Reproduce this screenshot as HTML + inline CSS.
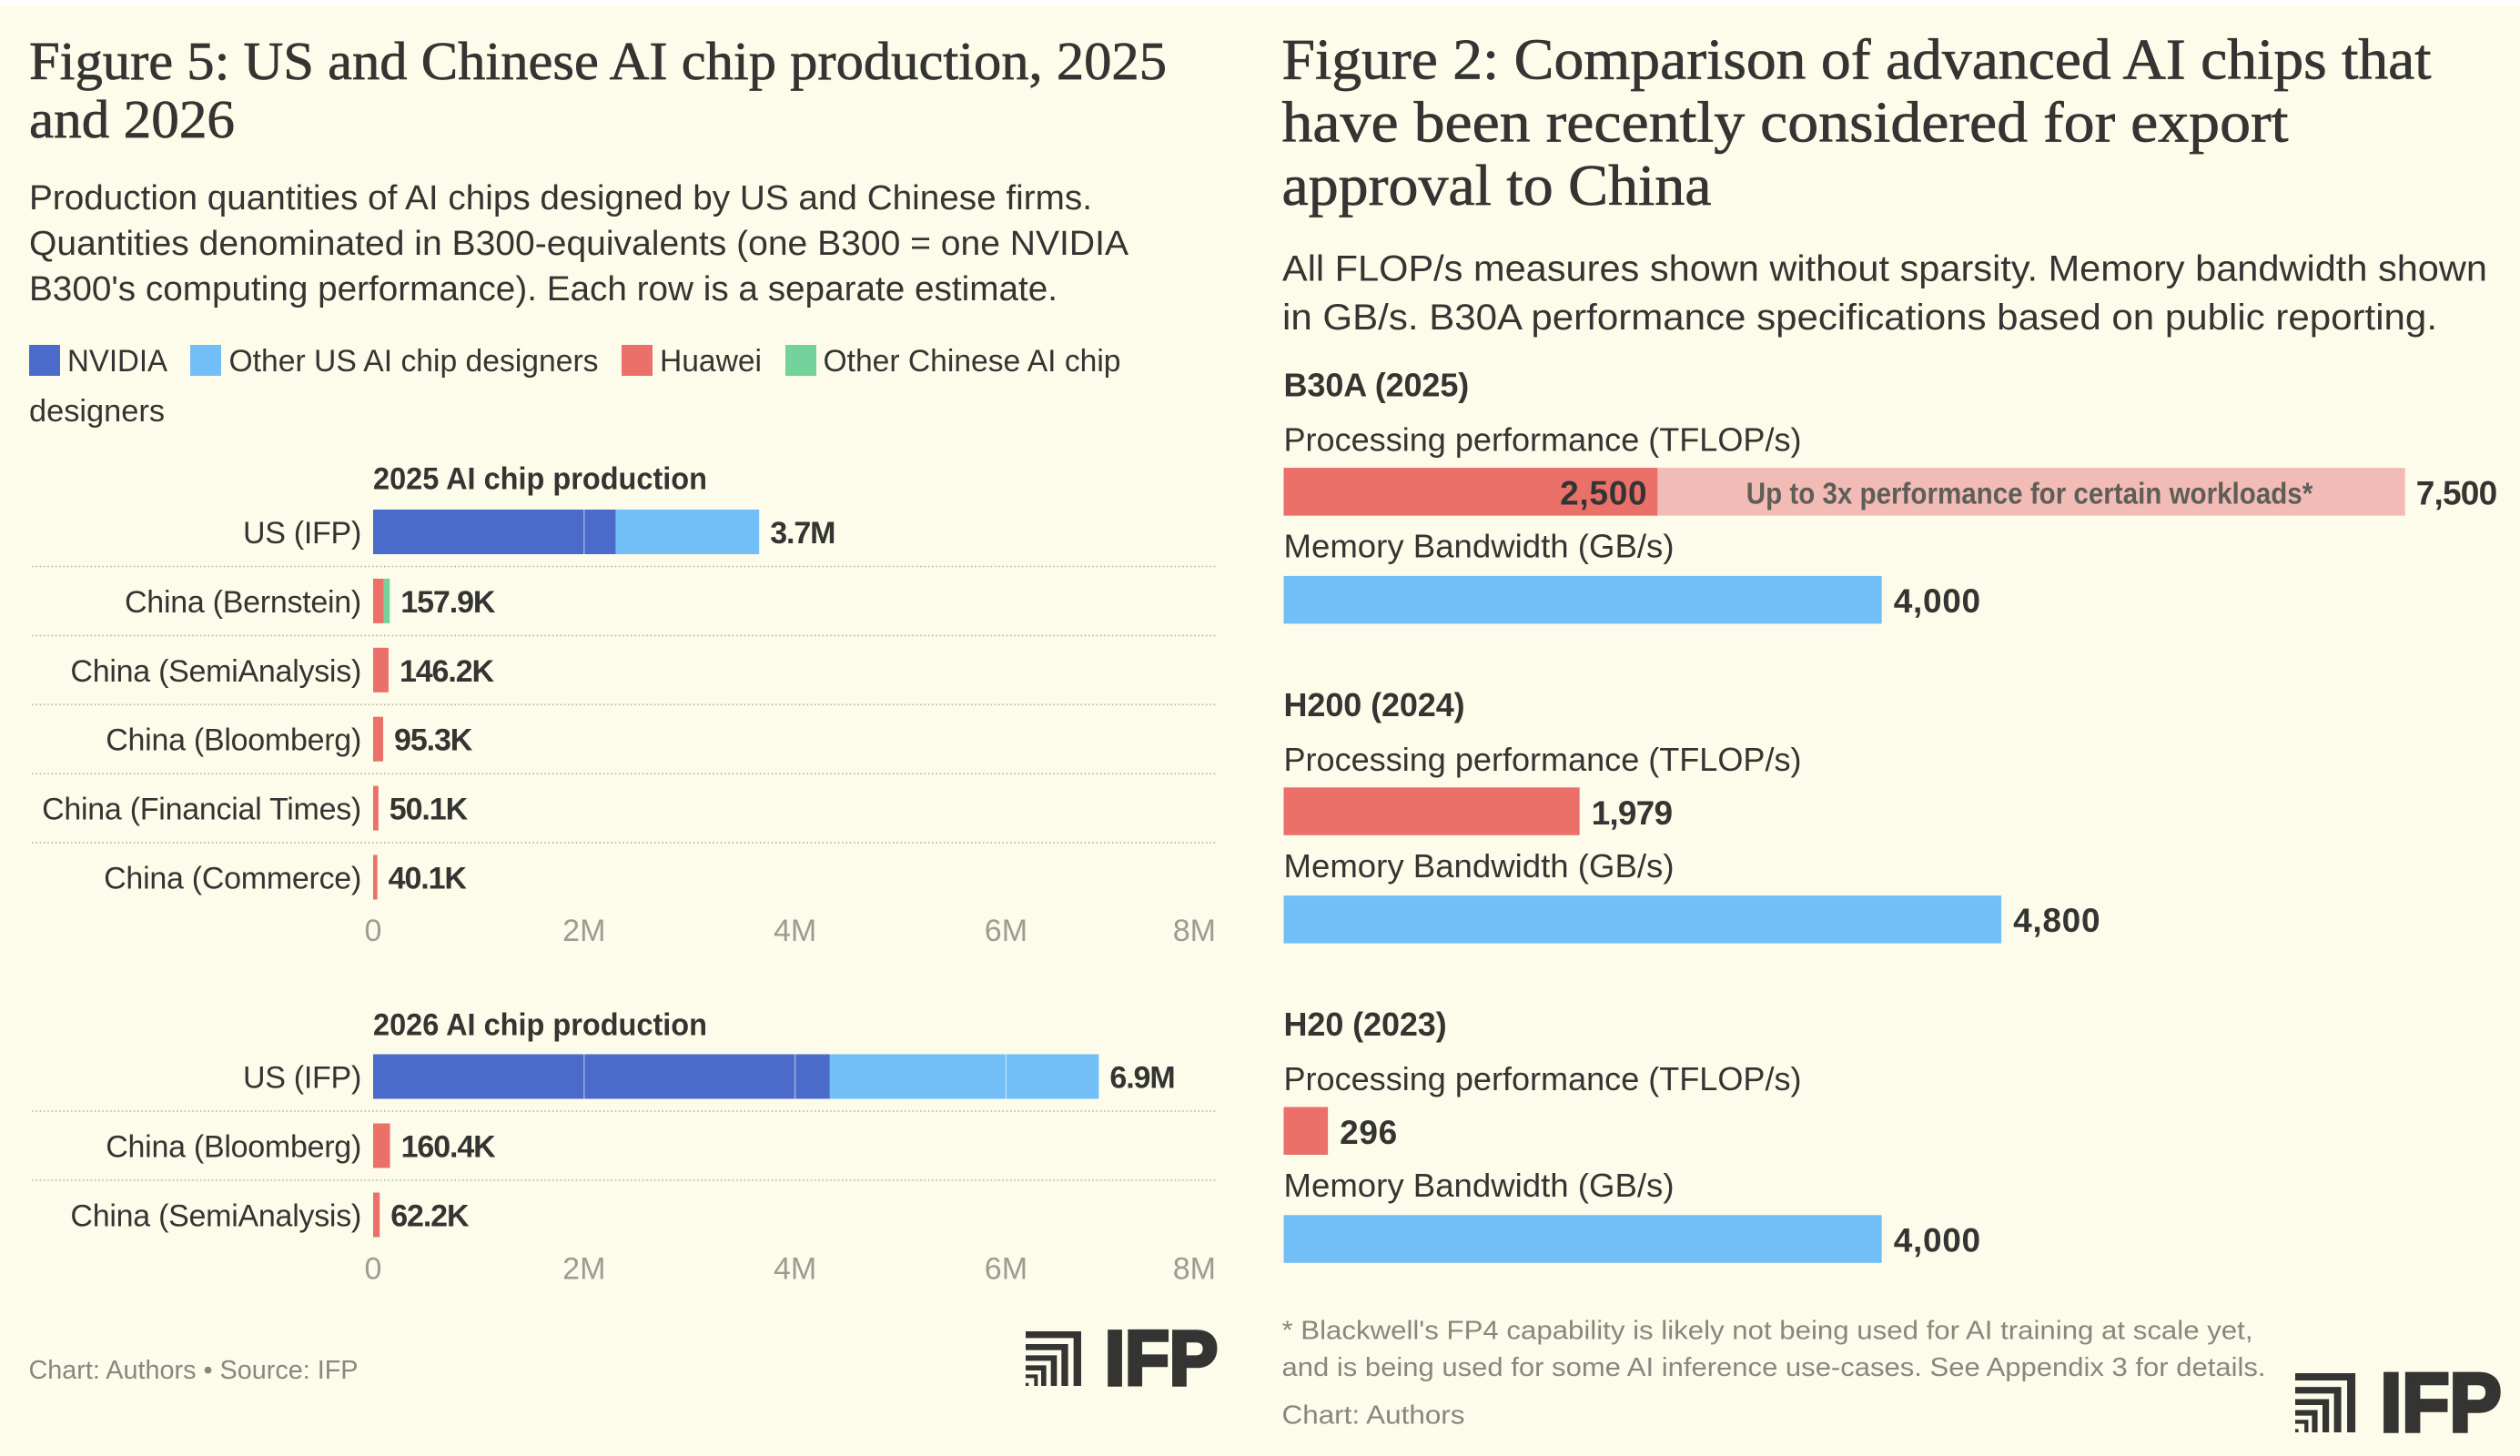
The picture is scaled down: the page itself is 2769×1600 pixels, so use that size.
<!DOCTYPE html>
<html lang="en">
<head>
<meta charset="utf-8">
<title>US and Chinese AI chip production; advanced AI chip comparison</title>
<style>
html,body{margin:0;padding:0;background:#fdfcea;}
svg{display:block;}
text{font-family:"Liberation Sans",sans-serif;fill:#343432;}
.serif{font-family:"Liberation Serif",serif;stroke:#343432;stroke-width:.7px;}
.title-l{font-size:59px;}
.title-r{font-size:63px;}
.body-l{font-size:38px;}
.body-r{font-size:40px;}
.legend{font-size:34px;}
.head{font-size:34px;font-weight:bold;}
.cat{font-size:34px;letter-spacing:-.27px;text-anchor:end;}
.val{font-size:34px;font-weight:bold;letter-spacing:-1.1px;}
.tick{font-size:34px;fill:#9c9c90;}
.foot{font-size:29px;fill:#87877d;}
.metric{font-size:36px;}
.rval{font-size:37px;font-weight:bold;letter-spacing:.7px;}
.rval-tight{font-size:37px;font-weight:bold;letter-spacing:-.8px;}
.logo{font-weight:bold;fill:#343432;stroke:#343432;stroke-width:4.5px;}
</style>
</head>
<body>
<svg id="root" xmlns="http://www.w3.org/2000/svg" width="2769" height="1600" viewBox="0 0 2769 1600">
  <rect x="0" y="0" width="2769" height="1600" fill="#fdfcea"/>
  <rect x="0" y="0" width="2769" height="6.5" fill="#ffffff"/>

  <g>
    <text class="serif title-l" x="32" y="87" textLength="1250" lengthAdjust="spacingAndGlyphs">Figure 5: US and Chinese AI chip production, 2025</text>
    <text class="serif title-l" x="32" y="151" textLength="226" lengthAdjust="spacingAndGlyphs">and 2026</text>
    <text class="body-l" x="32" y="230" textLength="1168" lengthAdjust="spacingAndGlyphs">Production quantities of AI chips designed by US and Chinese firms.</text>
    <text class="body-l" x="32" y="280" textLength="1208" lengthAdjust="spacingAndGlyphs">Quantities denominated in B300-equivalents (one B300 = one NVIDIA</text>
    <text class="body-l" x="32" y="330" textLength="1130" lengthAdjust="spacingAndGlyphs">B300's computing performance). Each row is a separate estimate.</text>
  </g>

  <g>
    <g>
      <rect x="32" y="379" width="34" height="34" fill="#4a6bc9"/>
      <text class="legend" x="74" y="408" textLength="110" lengthAdjust="spacingAndGlyphs">NVIDIA</text>
    </g>
    <g>
      <rect x="209" y="379" width="34" height="34" fill="#72bff8"/>
      <text class="legend" x="251.5" y="408" textLength="406" lengthAdjust="spacingAndGlyphs">Other US AI chip designers</text>
    </g>
    <g>
      <rect x="683" y="379" width="34" height="34" fill="#ea7069"/>
      <text class="legend" x="725" y="408" textLength="112" lengthAdjust="spacingAndGlyphs">Huawei</text>
    </g>
    <g>
      <rect x="863" y="379" width="34" height="34" fill="#73d49b"/>
      <text class="legend" x="904.5" y="408" textLength="327" lengthAdjust="spacingAndGlyphs">Other Chinese AI chip</text>
      <text class="legend" x="32" y="463" textLength="149" lengthAdjust="spacingAndGlyphs">designers</text>
    </g>
  </g>

  <g id="production-charts"></g>

  <g>
    <text class="foot" x="31.5" y="1515" textLength="362" lengthAdjust="spacingAndGlyphs">Chart: Authors • Source: IFP</text>
    <g>
      <g transform="translate(1127,1463) scale(.3333)" fill="#343432">
        <path d="M0 0H183V180H158V22H0Z"/><path d="M0 42H140V180H118V62H0Z"/><path d="M0 79H103V180H83V97H0Z"/><path d="M0 112H68V180H51V129H0Z"/><path d="M0 142H40V180H28V154H0Z"/><path d="M0 170H10V180H0Z"/>
      </g>
      <text class="logo" x="1214" y="1521.5" textLength="124" lengthAdjust="spacingAndGlyphs" style="font-size:84px">IFP</text>
    </g>
  </g>

  <g>
    <text class="serif title-r" x="1408.5" y="86.5" textLength="1263" lengthAdjust="spacingAndGlyphs">Figure 2: Comparison of advanced AI chips that</text>
    <text class="serif title-r" x="1408.5" y="155.5" textLength="1106" lengthAdjust="spacingAndGlyphs">have been recently considered for export</text>
    <text class="serif title-r" x="1408.5" y="225" textLength="472" lengthAdjust="spacingAndGlyphs">approval to China</text>
    <text class="body-r" x="1409" y="308.5" textLength="1324" lengthAdjust="spacingAndGlyphs">All FLOP/s measures shown without sparsity. Memory bandwidth shown</text>
    <text class="body-r" x="1409" y="362" textLength="1269" lengthAdjust="spacingAndGlyphs">in GB/s. B30A performance specifications based on public reporting.</text>
  </g>

  <g id="chip-charts"></g>

  <g>
    <text class="foot" x="1408.5" y="1471.5" textLength="1067" lengthAdjust="spacingAndGlyphs">* Blackwell's FP4 capability is likely not being used for AI training at scale yet,</text>
    <text class="foot" x="1408.5" y="1512" textLength="1081" lengthAdjust="spacingAndGlyphs">and is being used for some AI inference use-cases. See Appendix 3 for details.</text>
    <text class="foot" x="1408.5" y="1564.5" textLength="201" lengthAdjust="spacingAndGlyphs">Chart: Authors</text>
    <g>
      <g transform="translate(2522,1509) scale(.3611)" fill="#343432">
        <path d="M0 0H183V180H158V22H0Z"/><path d="M0 42H140V180H118V62H0Z"/><path d="M0 79H103V180H83V97H0Z"/><path d="M0 112H68V180H51V129H0Z"/><path d="M0 142H40V180H28V154H0Z"/><path d="M0 170H10V180H0Z"/>
      </g>
      <text class="logo" x="2615.5" y="1572.5" textLength="133" lengthAdjust="spacingAndGlyphs" style="font-size:91px">IFP</text>
    </g>
  </g>
</svg>
<script>
// Figure 5 data, values in millions of B300-equivalents
const axisTicks = [0, 2, 4, 6, 8];
const axisTickLabels = ['0', '2M', '4M', '6M', '8M'];

const categories2025 = ['US (IFP)', 'China (Bernstein)', 'China (SemiAnalysis)', 'China (Bloomberg)', 'China (Financial Times)', 'China (Commerce)'];
const nvidia2025 = [2.30, 0, 0, 0, 0, 0];
const otherUS2025 = [1.36, 0, 0, 0, 0, 0];
const huawei2025 = [0, 0.100, 0.1462, 0.0953, 0.0501, 0.0401];
const otherChinese2025 = [0, 0.0579, 0, 0, 0, 0];
const printed2025 = ['3.7M', '157.9K', '146.2K', '95.3K', '50.1K', '40.1K'];

const categories2026 = ['US (IFP)', 'China (Bloomberg)', 'China (SemiAnalysis)'];
const nvidia2026 = [4.33, 0, 0];
const otherUS2026 = [2.55, 0, 0];
const huawei2026 = [0, 0.1604, 0.0622];
const otherChinese2026 = [0, 0, 0];
const printed2026 = ['6.9M', '160.4K', '62.2K'];

// Figure 2 data
const chipNames = ['B30A (2025)', 'H200 (2024)', 'H20 (2023)'];
const processingTFLOP = [2500, 1979, 296];
const processingPeak = [7500, 0, 0];
const memoryGBs = [4000, 4800, 4000];
const processingPrinted = ['2,500', '1,979', '296'];
const peakPrinted = ['7,500', '', ''];
const memoryPrinted = ['4,000', '4,800', '4,000'];

const NS = 'http://www.w3.org/2000/svg';
const COLORS = {nvidia: '#4a6bc9', otherUS: '#72bff8', huawei: '#ea7069', otherChinese: '#73d49b'};

function xProd(v) { return 410 + v * 115.9; }
function xChip(v) { return 1410.5 + v * 0.1643; }

function make(parent, tag, attrs, txt) {
  const el = document.createElementNS(NS, tag);
  for (const k in attrs) el.setAttribute(k, attrs[k]);
  if (txt !== undefined) el.textContent = txt;
  parent.appendChild(el);
  return el;
}

function slug(s) {
  return s.toLowerCase().replace(/[^a-z0-9]+/g, '-').replace(/^-|-$/g, '');
}

function valClass(s) {
  return /^[17],/.test(s) ? 'rval-tight' : 'rval';
}

function drawPanel(root, yr, cfg) {
  const g = make(root, 'g', {});
  
  

  const title = make(g, 'text', {class: 'head', x: 410, y: cfg.titleY, textLength: 367, lengthAdjust: 'spacingAndGlyphs'}, yr + ' AI chip production');
  
  

  cfg.categories.forEach(function (cat, i) {
    const top = cfg.barTop + cfg.pitch * i;
    const row = make(g, 'g', {});
    
    

    const label = make(row, 'text', {class: 'cat', x: 397, y: top + 37}, cat);
    
    

    const segs = [
      ['nvidia', cfg.nvidia[i]],
      ['otherUS', cfg.otherUS[i]],
      ['huawei', cfg.huawei[i]],
      ['otherChinese', cfg.otherChinese[i]]
    ];
    let acc = 0;
    segs.forEach(function (s) {
      if (s[1] <= 0) return;
      const x0 = xProd(acc);
      const x1 = xProd(acc + s[1]);
      const r = make(row, 'rect', {x: x0, y: top, width: x1 - x0, height: 49, fill: COLORS[s[0]]});
      
      
      acc += s[1];
    });

    axisTicks.forEach(function (t) {
      if (t === 0 || t >= acc) return;
      const gl = make(row, 'line', {x1: xProd(t), x2: xProd(t), y1: top, y2: top + 49, stroke: '#ffffff', 'stroke-opacity': 0.45, 'stroke-width': 1.5});
      
      
    });

    const val = make(row, 'text', {class: 'val', x: xProd(acc) + 12, y: top + 37}, cfg.printed[i]);
    
    

    if (i < cfg.categories.length - 1) {
      const d = make(g, 'line', {x1: 35, x2: 1336, y1: top + 62.5, y2: top + 62.5, stroke: '#b5b5a6', 'stroke-width': 1.6, 'stroke-dasharray': '1.6 2.7'});
      
      
    }
  });

  axisTicks.forEach(function (t, i) {
    const last = i === axisTicks.length - 1;
    const lab = make(g, 'text', {class: 'tick', x: last ? 1336 : xProd(t), y: cfg.axisY, 'text-anchor': last ? 'end' : 'middle'}, axisTickLabels[i]);
    
    
  });
}

const prodRoot = document.getElementById('production-charts');
drawPanel(prodRoot, '2025', {
  categories: categories2025, nvidia: nvidia2025, otherUS: otherUS2025,
  huawei: huawei2025, otherChinese: otherChinese2025, printed: printed2025,
  titleY: 537.5, barTop: 560, pitch: 75.9, axisY: 1034
});
drawPanel(prodRoot, '2026', {
  categories: categories2026, nvidia: nvidia2026, otherUS: otherUS2026,
  huawei: huawei2026, otherChinese: otherChinese2026, printed: printed2026,
  titleY: 1137.5, barTop: 1158.5, pitch: 76, axisY: 1405.5
});

const chipRoot = document.getElementById('chip-charts');
chipNames.forEach(function (name, i) {
  const base = 436.6 + 351.2 * i;
  const g = make(chipRoot, 'g', {});
  
  

  const head = make(g, 'text', {class: 'head', x: 1410.5, y: base - 1, style: 'font-size:36px;letter-spacing:-.1px'}, name);
  
  

  const pl = make(g, 'text', {class: 'metric', x: 1410.5, y: base + 59, textLength: 569, lengthAdjust: 'spacingAndGlyphs'}, 'Processing performance (TFLOP/s)');
  
  

  const barY = base + 77.5;
  if (processingPeak[i] > 0) {
    const pk = make(g, 'rect', {x: xChip(0), y: barY, width: xChip(processingPeak[i]) - xChip(0), height: 52.5, fill: '#f3bbb5'});
    
    
  }
  const pb = make(g, 'rect', {x: xChip(0), y: barY, width: xChip(processingTFLOP[i]) - xChip(0), height: 52.5, fill: COLORS.huawei});
  
  

  if (processingPeak[i] > 0) {
    const inside = make(g, 'text', {class: 'rval', x: xChip(processingTFLOP[i]) - 11, y: barY + 40.5, 'text-anchor': 'end'}, processingPrinted[i]);
    
    
    const mid = (xChip(processingTFLOP[i]) + xChip(processingPeak[i])) / 2;
    const note = make(g, 'text', {x: mid - 2, y: barY + 39.5, 'text-anchor': 'middle', textLength: 622.5, lengthAdjust: 'spacingAndGlyphs', style: 'font-size:33px;font-weight:bold;fill:#5e5e58'}, 'Up to 3x performance for certain workloads*');
    
    
    const pkv = make(g, 'text', {class: valClass(peakPrinted[i]), x: xChip(processingPeak[i]) + 12, y: barY + 40.5}, peakPrinted[i]);
    
    
  } else {
    const pv = make(g, 'text', {class: valClass(processingPrinted[i]), x: xChip(processingTFLOP[i]) + 13, y: barY + 40.5}, processingPrinted[i]);
    
    
  }

  const ml = make(g, 'text', {class: 'metric', x: 1410.5, y: base + 176, textLength: 429, lengthAdjust: 'spacingAndGlyphs'}, 'Memory Bandwidth (GB/s)');
  
  

  const memY = base + 196.3;
  const mb = make(g, 'rect', {x: xChip(0), y: memY, width: xChip(memoryGBs[i]) - xChip(0), height: 52.5, fill: COLORS.otherUS});
  
  

  const mv = make(g, 'text', {class: valClass(memoryPrinted[i]), x: xChip(memoryGBs[i]) + 13, y: memY + 40}, memoryPrinted[i]);
  
  
});
</script>
</body>
</html>
